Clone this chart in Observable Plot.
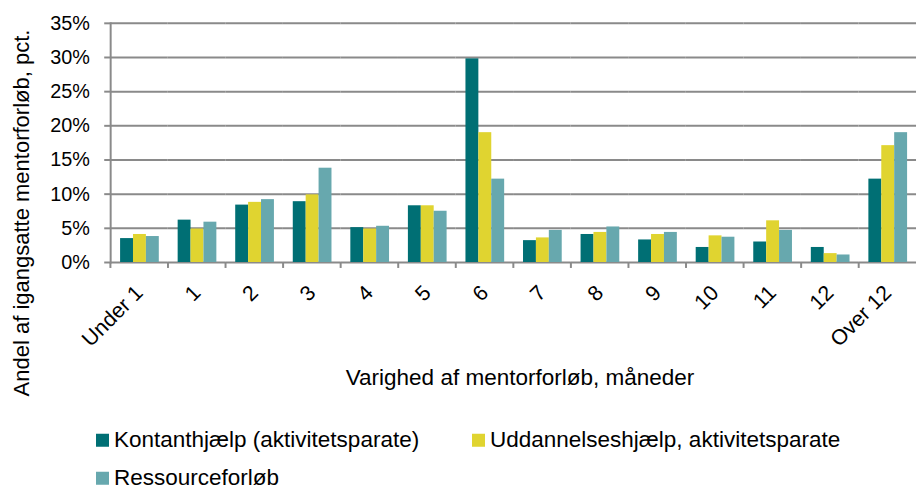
<!DOCTYPE html>
<html><head><meta charset="utf-8">
<script src="https://cdn.jsdelivr.net/npm/d3@7"></script>
<script src="https://cdn.jsdelivr.net/npm/@observablehq/plot@0.6"></script>
<style>
body{margin:0;background:#fff;font-family:"Liberation Sans",Arial,sans-serif;color:#000;}
#wrap{position:relative;width:919px;height:491px;overflow:hidden;}
#wrap svg{position:absolute;left:0;top:0;}
.ov{position:absolute;white-space:nowrap;line-height:1;}
.ytitle{font-size:22px;transform:translate(-50%,-50%) rotate(-90deg);}
.xtitle{font-size:22.5px;transform:translate(-50%,-50%);}
.leg{font-size:22.5px;transform:translateY(-50%);display:flex;align-items:center;}
.sw{width:13px;height:13px;margin-right:5px;display:inline-block;}
</style></head><body><div id="wrap"></div>
<script>
const categories = ["Under 1","1","2","3","4","5","6","7","8","9","10","11","12","Over 12"];
const seriesNames = ["Kontanthjælp (aktivitetsparate)","Uddannelseshjælp, aktivitetsparate","Ressourceforløb"];
const kontant    = [3.5, 6.2, 8.4, 8.9, 5.1, 8.3, 29.8, 3.2, 4.1, 3.3, 2.2, 3.0, 2.2, 12.2];
const uddannelse = [4.1, 4.9, 8.8, 9.9, 4.9, 8.3, 19.0, 3.6, 4.4, 4.1, 3.9, 6.1, 1.3, 17.1];
const ressource  = [3.8, 5.9, 9.2, 13.8, 5.3, 7.5, 12.2, 4.7, 5.2, 4.4, 3.7, 4.7, 1.1, 19.0];
const seriesColors = ["#006F74","#E0D430","#67A8AE"];
const yTicks = [0,5,10,15,20,25,30,35];
const yTitle = "Andel af igangsatte mentorforløb, pct.";
const xTitle = "Varighed af mentorforløb, måneder";

const seriesValues = [kontant, uddannelse, ressource];
const data = categories.flatMap((c,i)=>seriesValues.map((arr,j)=>({cat:c, series:seriesNames[j], value:arr[i]})));

const grey = "#8a8a8a";
const bandW = (926 - 107) / categories.length;
const plot = Plot.plot({
  width: 926, height: 491,
  marginLeft: 107, marginRight: 0, marginTop: 23, marginBottom: 227,
  style: {fontFamily: "Liberation Sans, Arial, sans-serif", fontSize: "20px", color: "#000", background: "transparent", overflow: "visible"},
  fx: {domain: categories, padding: 0},
  x: {domain: seriesNames, paddingInner: 0, paddingOuter: 0.64, axis: null},
  y: {domain: [0,35]},
  color: {domain: seriesNames, range: seriesColors},
  marks: [
    Plot.gridY(yTicks, {stroke: grey, strokeOpacity: 1, strokeWidth: 2}),
    Plot.barY(data, {fx: "cat", x: "series", y: "value", fill: "series"}),
    Plot.frame({anchor: "left", facetAnchor: "left", stroke: grey, strokeWidth: 2}),
    Plot.axisY({ticks: yTicks, tickFormat: d => d + "%", tickSize: 6, tickPadding: 15, stroke: grey, strokeWidth: 2, strokeOpacity: 1, fill: "#000", fontSize: 20, label: null}),
    Plot.axisFx({anchor: "bottom", tickSize: 6, tickFormat: () => "", stroke: grey, strokeWidth: 2, strokeOpacity: 1, dx: -bandW / 2, label: null}),
    Plot.axisFx({anchor: "bottom", tickRotate: -45, tickSize: 0, tickPadding: 27, fontSize: 21.5, fill: "#000", label: null})
  ]
});
const wrap = document.getElementById("wrap");
wrap.appendChild(plot);

function ov(cls, text, left, top){
  const d = document.createElement("div");
  d.className = "ov " + cls; d.textContent = text;
  d.style.left = left + "px"; d.style.top = top + "px";
  wrap.appendChild(d); return d;
}
ov("ytitle", yTitle, 22, 213);
ov("xtitle", xTitle, 520, 378);
const legPos = [[96,440],[472,440],[96,478]];
seriesNames.forEach((s,i)=>{
  const d = document.createElement("div");
  d.className = "ov leg";
  d.style.left = legPos[i][0] + "px"; d.style.top = legPos[i][1] + "px";
  const sw = document.createElement("span"); sw.className = "sw"; sw.style.background = seriesColors[i];
  const t = document.createElement("span"); t.textContent = s;
  d.appendChild(sw); d.appendChild(t);
  wrap.appendChild(d);
});
</script>
</body></html>
